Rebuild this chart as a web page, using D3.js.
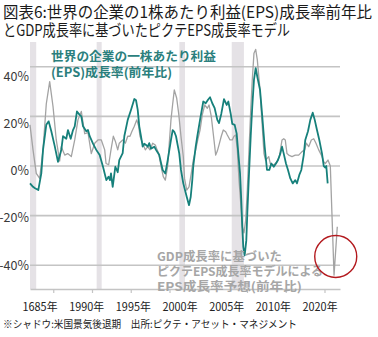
<!DOCTYPE html>
<html><head><meta charset="utf-8">
<script src="https://cdn.jsdelivr.net/npm/d3@7"></script>
<style>
html,body{margin:0;padding:0;background:#fff;}
svg{display:block;}
text{font-family:"Noto Sans CJK JP","Noto Sans",sans-serif;}
</style></head><body>
<svg id="c" width="378" height="337"></svg>
<script>
// ---- data ----
const titleLines = ["図表6:世界の企業の1株あたり利益(EPS)成長率前年比", "とGDP成長率に基づいたピクテEPS成長率モデル"];
const epsLabelLines = ["世界の企業の一株あたり利益", "(EPS)成長率(前年比)"];
const modelLabelLines = ["GDP成長率に基づいた", "ピクテEPS成長率モデルによる", "EPS成長率予想(前年比)"];
const sourceNote = "※シャドウ:米国景気後退期　出所:ピクテ・アセット・マネジメント";

const epsYears = [1982.00,1982.39,1982.65,1983.07,1983.46,1983.68,1984.10,1984.41,1984.75,1985.19,1985.61,1986.04,1986.26,1986.68,1986.90,1987.25,1987.55,1987.77,1988.06,1988.41,1988.62,1988.84,1989.26,1989.48,1989.70,1990.13,1990.55,1990.99,1991.42,1991.85,1992.13,1992.32,1992.45,1992.67,1993.01,1993.32,1993.52,1993.96,1994.17,1994.61,1995.03,1995.46,1995.68,1995.90,1996.10,1996.32,1996.54,1996.75,1996.97,1997.19,1997.39,1997.61,1998.04,1998.26,1998.68,1999.12,1999.46,1999.77,2000.19,2000.41,2000.62,2000.84,2001.26,2001.48,2001.78,2002.22,2002.52,2002.74,2002.94,2003.07,2003.38,2003.59,2003.94,2004.36,2004.67,2004.97,2005.23,2005.52,2005.83,2006.17,2006.39,2006.68,2007.03,2007.38,2007.59,2007.90,2008.10,2008.41,2008.67,2008.88,2009.10,2009.26,2009.39,2009.52,2009.70,2009.91,2010.04,2010.26,2010.48,2010.68,2010.90,2011.12,2011.33,2011.68,2011.97,2012.28,2012.58,2012.88,2013.14,2013.45,2013.74,2014.00,2014.30,2014.52,2014.74,2015.03,2015.29,2015.59,2015.90,2016.23,2016.45,2016.75,2017.01,2017.32,2017.52,2017.87,2018.17,2018.48,2018.74,2019.03,2019.33,2019.68,2019.90,2020.10,2020.23,2020.41];
const epsValues = [-7,-8.4,-9,-9.7,-3,6.5,16.6,18,14,8,1.7,6.5,12,11,14.5,11,14.5,16,22,20.6,20,16,14,14.5,12,9,6.5,4.4,-0.3,-5.7,-4.3,-5.7,-3,-8.4,-0.3,-2.5,2.4,5.2,12,18.6,22.6,27,26.5,22.6,16,12,7.8,9,8.5,7.8,9.2,7,7.8,6.5,4.4,-1.6,-3,2.4,10.5,14.5,13.8,12,5,-1.6,-7,-12.4,-15.8,-12.4,-5.7,0,7.8,12,18.6,26,25.3,26.7,27.7,25.3,23.3,18.6,17.3,21,27,24.6,26,21,17,16.6,13,5,-3,-13.7,-24.5,-32.6,-36,-30,-19,-3,12,24,34.7,39.5,36,30.7,20,7.8,-1.6,-1.6,1,-0.3,1,2.4,5,7.8,5,1,-1.6,-5,-7,-5.7,-7,-3.6,-1.6,4.4,10.5,14,18.6,21.5,18.6,14.5,10.5,5,0,-0.6,0,-7];

const modelYears = [1982.00,1982.39,1982.81,1983.25,1983.68,1984.10,1984.54,1984.97,1985.39,1985.83,1986.04,1986.48,1986.86,1987.33,1987.77,1988.19,1988.62,1989.06,1989.48,1989.91,1990.35,1990.77,1991.20,1991.64,1991.81,1992.15,1992.45,1992.75,1993.01,1993.32,1993.52,1993.96,1994.30,1994.61,1994.90,1995.16,1995.46,1995.77,1996.03,1996.19,1996.54,1996.88,1997.19,1997.48,1997.83,1998.17,1998.35,1998.61,1998.90,1999.20,1999.46,1999.77,1999.97,2000.19,2000.41,2000.62,2000.93,2001.19,2001.48,2001.78,2001.94,2002.22,2002.52,2002.81,2003.07,2003.38,2003.68,2003.94,2004.23,2004.54,2004.88,2005.10,2005.39,2005.74,2005.96,2006.17,2006.39,2006.68,2006.94,2007.25,2007.46,2007.81,2008.10,2008.32,2008.54,2008.75,2008.97,2009.19,2009.39,2009.61,2009.83,2010.04,2010.26,2010.48,2010.68,2010.90,2011.12,2011.33,2011.68,2011.97,2012.19,2012.39,2012.58,2012.80,2013.01,2013.45,2013.87,2014.17,2014.52,2014.74,2014.94,2015.16,2015.38,2015.81,2016.23,2016.67,2017.10,2017.45,2017.65,2017.96,2018.30,2018.61,2018.90,2019.25,2019.68,2019.90,2020.10,2020.45,2020.75,2021.23,2021.65];
const modelValues = [16.6,6.5,-3,-5,6.5,25,34,24,10.5,2,7.8,4.4,5,3.8,10.5,18.6,22,13,13.5,5,9.2,10.5,10.5,6.5,1,0.5,6.5,12,10,6.5,9.2,10.5,9.2,12,12,14,16,18.6,16,12,9.2,6.5,7.8,6.5,9.2,8.5,7,5,0,-4.3,-5.7,0,9.2,18.6,25,30.7,27.3,21,12,3.8,-5,-9.7,-8.4,-3,2.4,6.5,11,14.5,20.6,24.6,23.3,24.6,20,10.5,4.4,6,8.5,12,14.5,13.8,12.5,10.5,10.5,12,12.5,6.5,-5.7,-15,-24.5,-27,-21.8,-9.7,6.5,22.6,34.7,45.5,47,42.8,30.7,16,5,2.4,3,3.8,1,0.4,1.7,3.8,10.5,11,10.5,5,4.4,3.8,4.4,4.4,5.8,6.5,9.2,7.8,10.5,11,9.2,6.5,3.8,1.7,1,2.4,0,-44,-24.5];

const recessionStarts = [1982.0, 1990.6, 2001.27, 2008.03];
const recessionEnds = [1982.8, 1991.25, 2002.0, 2009.6];
const yTicks = [40, 20, 0, -20, -40];
const yTickLabels = ["40%", "20%", "0%", "-20%", "-40%"];
const xTickYears = [1985, 1990, 1995, 2000, 2005, 2010, 2015, 2020];
const xLabels = ["1685年", "1990年", "1995年", "2000年", "2005年", "2010年", "2020年"];
const highlightYear = 2021.45, highlightValue = -36.5;

// ---- drawing ----
const svg = d3.select("#c");
const x = d3.scaleLinear().domain([1982, 2022]).range([30, 340]);
const y = d3.scaleLinear().domain([-50, 50]).range([290, 42]);
const yLab = d3.scaleLinear().domain([-40, 40]).range([265, 76.5]);
const xLab = d3.scalePoint().domain(xLabels).range([40, 320]);

const teal = "#16807b", grayLine = "#a3a3a3";

// title
svg.selectAll("text.title").data(titleLines).join("text")
  .attr("class","title").attr("x",3).attr("y",(d,i)=>[18,35.5][i])
  .attr("font-size",15.5).attr("fill","#1a1a1a")
  .attr("textLength",(d,i)=>[369,287][i]).attr("lengthAdjust","spacingAndGlyphs")
  .text(d=>d);

// recession shading
svg.append("g").selectAll("rect").data(recessionStarts).join("rect")
  .attr("x",d=>x(d)).attr("width",(d,i)=>x(recessionEnds[i])-x(d))
  .attr("y",y(50)).attr("height",y(-50)-y(50)-1)
  .attr("fill","#e5e2e6");

// gridlines
svg.append("g").selectAll("line").data(yTicks).join("line")
  .attr("x1",x(1982)).attr("x2",x(2022)).attr("y1",d=>y(d)).attr("y2",d=>y(d))
  .attr("stroke","#c4c4c4").attr("stroke-width",1.6);

// bottom axis
const ax = svg.append("g").attr("transform",`translate(0,${y(-50)-1})`)
  .call(d3.axisBottom(x).tickValues(xTickYears).tickSize(4).tickSizeOuter(0).tickFormat(""));
ax.select(".domain").attr("stroke","#c4c4c4").attr("stroke-width",1.6);
ax.selectAll(".tick line").attr("stroke","#c4c4c4").attr("stroke-width",1.2);

// y labels
svg.append("g").selectAll("text").data(yTicks).join("text")
  .attr("x",29).attr("y",d=>yLab(d)).attr("dy","0.36em").attr("text-anchor","end")
  .attr("font-family","Liberation Sans, Arial, sans-serif").attr("font-size",12.5).attr("fill","#3a3a3a")
  .text((d,i)=>yTickLabels[i]);

// x labels
svg.append("g").selectAll("text").data(xLabels).join("text")
  .attr("x",d=>xLab(d)).attr("y",311).attr("text-anchor","middle")
  .attr("font-size",11.5).attr("fill","#222")
  .attr("textLength",35).attr("lengthAdjust","spacingAndGlyphs")
  .text(d=>d);

// lines
const lineGen = d3.line().x(d=>x(d[0])).y(d=>y(d[1]));
svg.append("path").datum(d3.zip(modelYears, modelValues))
  .attr("d",lineGen).attr("fill","none").attr("stroke",grayLine).attr("stroke-width",1.3).attr("stroke-linejoin","round");
svg.append("path").datum(d3.zip(epsYears, epsValues))
  .attr("d",lineGen).attr("fill","none").attr("stroke",teal).attr("stroke-width",1.8).attr("stroke-linejoin","round");

// annotations
svg.selectAll("text.eps").data(epsLabelLines).join("text")
  .attr("class","eps").attr("x",51).attr("y",(d,i)=>[61,77][i])
  .attr("font-size",12.5).attr("font-weight","bold").attr("fill","#2b7f7d")
  .attr("textLength",(d,i)=>[165,121][i]).attr("lengthAdjust","spacingAndGlyphs")
  .text(d=>d);
svg.selectAll("text.model").data(modelLabelLines).join("text")
  .attr("class","model").attr("x",157).attr("y",(d,i)=>[261,276,291][i])
  .attr("font-size",12).attr("font-weight","bold").attr("fill","#a6a6a6")
  .attr("textLength",(d,i)=>[125,166,145][i]).attr("lengthAdjust","spacingAndGlyphs")
  .text(d=>d);

// highlight circle
svg.append("circle").attr("cx",x(highlightYear)).attr("cy",y(highlightValue)).attr("r",21)
  .attr("fill","none").attr("stroke","#b3191e").attr("stroke-width",1.4);

// source
svg.append("text").attr("x",3).attr("y",328).attr("font-size",10.5).attr("fill","#222")
  .attr("textLength",294).attr("lengthAdjust","spacingAndGlyphs").text(sourceNote);
</script>
</body></html>
